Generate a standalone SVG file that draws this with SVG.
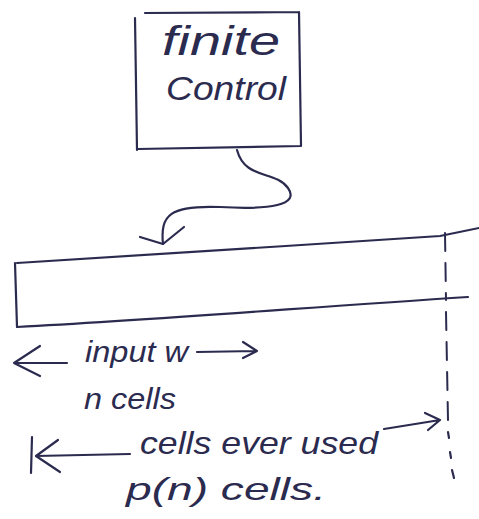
<svg xmlns="http://www.w3.org/2000/svg" width="479" height="519" viewBox="0 0 479 519">
<style>
.ink{fill:none;stroke:#2b2b4f;stroke-width:2.2;stroke-linecap:round;stroke-linejoin:round}
.dash{fill:none;stroke:#2b2b4f;stroke-width:2;stroke-linecap:round;stroke-dasharray:18 12}
.t{fill:#2b2b4f;font-family:"Liberation Sans","DejaVu Sans",sans-serif;font-style:italic}
</style>
<rect width="479" height="519" fill="#ffffff"/>
<g id="finite-control">
<path class="ink" d="M135,18 L137,150 M145,13 L299,12 M299,12 L301,146 M138,149 L301,146"/>
<text class="t" x="162" y="55" font-size="40" textLength="118" lengthAdjust="spacingAndGlyphs">finite</text>
<text class="t" x="166" y="100" font-size="34" textLength="120" lengthAdjust="spacingAndGlyphs">Control</text>
</g>
<g id="tape">
<path class="ink" d="M17,263 C150,255 300,245 440,236 L479,228"/>
<path class="ink" d="M17,327 C150,320 300,308 468,297"/>
<path class="ink" d="M15,263 L17,327"/>
<path class="dash" d="M445,233 L446,300"/>
<path class="dash" d="M446,312 L448,420"/>
<path class="ink" d="M448,432 L449,438 M450,452 L451,458 M452,470 L454,478"/>
</g>
<g id="connectors">
<path class="ink" d="M237,150 C245,180 275,170 288,188 C300,205 270,210 220,207 C170,205 160,215 163,244"/>
<path class="ink" d="M140,237 L163,244 L184,227"/>
<path class="ink" d="M67,363 L14,363 M40,346 L14,363 L40,376"/>
<path class="ink" d="M197,352 L257,351 M243,342 L257,351 L243,358"/>
<path class="ink" d="M32,437 L31,473 M130,454 L36,456 M58,440 L36,456 L60,472"/>
<path class="ink" d="M384,429 L440,420 M425,413 L440,420 L428,430"/>
</g>
<g id="labels">
<text class="t" x="85" y="362" font-size="30" textLength="103" lengthAdjust="spacingAndGlyphs">input w</text>
<text class="t" x="84" y="409" font-size="30" textLength="92" lengthAdjust="spacingAndGlyphs">n cells</text>
<text class="t" x="140" y="454" font-size="32" textLength="238" lengthAdjust="spacingAndGlyphs">cells ever used</text>
<text class="t" x="126" y="500" font-size="32" textLength="200" lengthAdjust="spacingAndGlyphs">p(n) cells.</text>
</g>
</svg>
